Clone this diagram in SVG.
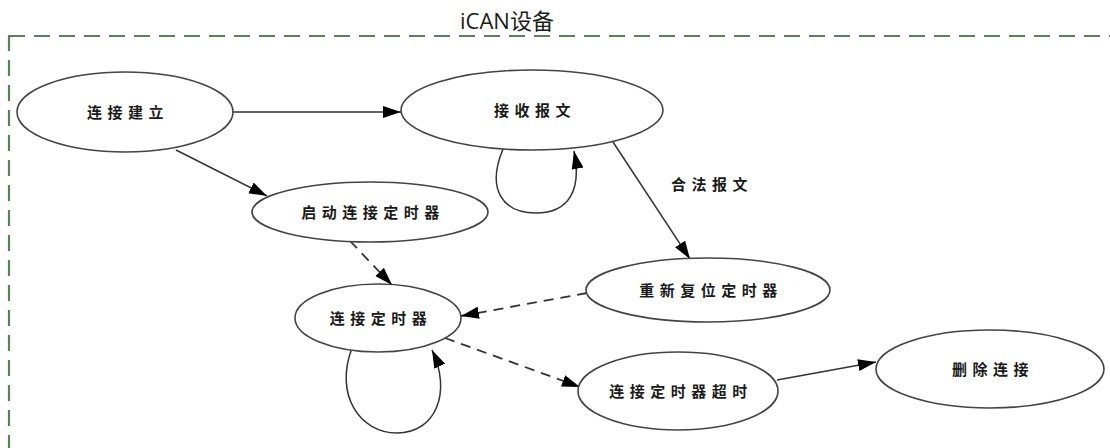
<svg xmlns="http://www.w3.org/2000/svg" width="1110" height="448" viewBox="0 0 1110 448">
  <style>
    .node ellipse { fill: #ffffff; stroke: #444444; stroke-width: 1.6; }
    .lbl { font-family: "Noto Sans CJK SC", "Noto Sans", sans-serif; font-size: 15px; font-weight: bold; fill: #1a1a1a; text-anchor: middle; letter-spacing: 5.5px; }
    .edge { fill: none; stroke: #333333; stroke-width: 1.5; }
    .dash { stroke-dasharray: 10 7; stroke-width: 1.8; }
    .frame { fill: none; stroke: #5c7f5c; stroke-width: 2.2; stroke-dasharray: 16 9; }
    .title { font-family: "Open Sans", "Noto Sans CJK SC", sans-serif; font-size: 22px; font-weight: normal; fill: #1a1a1a; text-anchor: middle; }
  </style>
  <defs>
    <marker id="arr" markerUnits="userSpaceOnUse" markerWidth="20" markerHeight="14" refX="18" refY="6" orient="auto">
      <path d="M0,0 L18,6 L0,12 Z" fill="#000000"/>
    </marker>
  </defs>
  <rect width="1110" height="448" fill="#ffffff"/>
  <g id="frame">
    <rect class="frame" x="9" y="36" width="1130" height="440"/>
    <text class="title" x="507" y="29">iCAN设备</text>
  </g>
  <g id="connectors">
    <path class="edge" d="M232,112 L401,112" marker-end="url(#arr)"/>
    <path class="edge" d="M176,150 L267,196" marker-end="url(#arr)"/>
    <path class="edge" d="M503,149 C486,190 503,213 536,213 C569,213 582,190 574,151" marker-end="url(#arr)"/>
    <path class="edge" d="M613,142 L690,259" marker-end="url(#arr)"/>
    <text class="lbl" x="712" y="190">合法报文</text>
    <path class="edge dash" d="M350,241 L392,285" marker-end="url(#arr)"/>
    <path class="edge dash" d="M587,293 L461,316" marker-end="url(#arr)"/>
    <path class="edge" d="M352,348 C334,395 360,433 397,433 C436,433 452,392 432,350" marker-end="url(#arr)"/>
    <path class="edge dash" d="M445,338 L580,387" marker-end="url(#arr)"/>
    <path class="edge" d="M777,380 L876,362" marker-end="url(#arr)"/>
  </g>
  <g id="n1" class="node">
    <ellipse cx="125" cy="112" rx="108" ry="40"/>
    <text class="lbl" x="128" y="118">连接建立</text>
  </g>
  <g id="n2" class="node">
    <ellipse cx="532" cy="110" rx="131" ry="40"/>
    <text class="lbl" x="535" y="116">接收报文</text>
  </g>
  <g id="n3" class="node">
    <ellipse cx="370" cy="212" rx="118" ry="30"/>
    <text class="lbl" x="373" y="218">启动连接定时器</text>
  </g>
  <g id="n4" class="node">
    <ellipse cx="708" cy="290" rx="122" ry="32"/>
    <text class="lbl" x="711" y="296">重新复位定时器</text>
  </g>
  <g id="n5" class="node">
    <ellipse cx="378" cy="318" rx="83" ry="34"/>
    <text class="lbl" x="381" y="324">连接定时器</text>
  </g>
  <g id="n6" class="node">
    <ellipse cx="678" cy="391" rx="100" ry="39"/>
    <text class="lbl" x="681" y="397">连接定时器超时</text>
  </g>
  <g id="n7" class="node">
    <ellipse cx="990" cy="369" rx="114" ry="39"/>
    <text class="lbl" x="993" y="375">删除连接</text>
  </g>
</svg>
